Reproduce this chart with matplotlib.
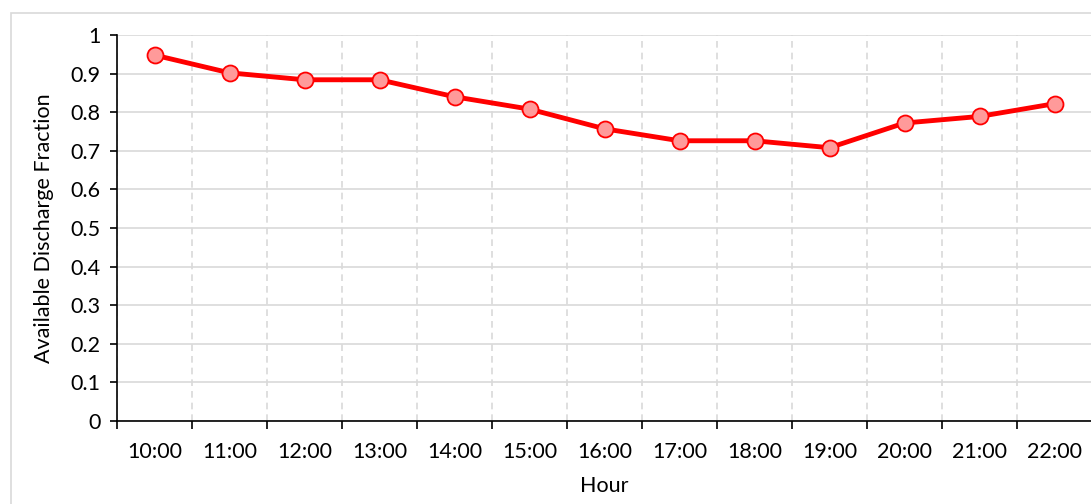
import matplotlib
matplotlib.use("Agg")
import matplotlib.pyplot as plt
from matplotlib.patches import Rectangle
from matplotlib.ticker import FixedLocator, NullFormatter

hours = ["10:00", "11:00", "12:00", "13:00", "14:00", "15:00", "16:00",
         "17:00", "18:00", "19:00", "20:00", "21:00", "22:00"]
fraction = [0.948, 0.902, 0.884, 0.884, 0.840, 0.808, 0.757,
            0.726, 0.726, 0.708, 0.772, 0.789, 0.822]

plt.rcParams['font.family'] = ['Lato', 'DejaVu Sans']

W, H = 1091, 504
fig = plt.figure(figsize=(W / 100, H / 100), dpi=100)

# light border round the chart area
fig.patches.append(Rectangle((11 / W, -0.1), 1.2, 1.1 - 13 / H, transform=fig.transFigure,
                             fill=False, edgecolor="#d9d9d9", linewidth=1.2))

ax = fig.add_axes([117 / W, 1 - 421 / H, (1092 - 117) / W, (421 - 35) / H])

x = list(range(len(hours)))
ax.plot(x, fraction, color="#ff0000", linewidth=3.5, marker="o", markersize=11.5,
        markerfacecolor="#ff9a9a", markeredgecolor="#ff0000", markeredgewidth=1.3,
        zorder=3)

ax.set_xlim(-0.5, len(hours) - 0.5)
ax.set_ylim(0, 1)

# category boundaries carry the ticks and dashed grid
bounds = [i - 0.5 for i in range(len(hours) + 1)]
ax.xaxis.set_major_locator(FixedLocator(bounds))
ax.xaxis.set_major_formatter(NullFormatter())
ax.xaxis.set_minor_locator(FixedLocator(x))
ax.set_xticklabels(hours, minor=True)
ax.tick_params(axis="x", which="minor", length=0, labelsize=15.5, pad=15)
ax.tick_params(axis="x", which="major", length=6, width=1.2, direction="out")

yt = [i / 10 for i in range(11)]
ax.set_yticks(yt)
ax.set_yticklabels(["0", "0.1", "0.2", "0.3", "0.4", "0.5", "0.6", "0.7", "0.8", "0.9", "1"])
ax.tick_params(axis="y", length=5, width=1.2, labelsize=15.5, pad=7)

ax.grid(axis="y", color="#d9d9d9", linewidth=1.2)
ax.grid(axis="x", which="major", color="#d9d9d9", linewidth=1.2, linestyle=(0, (4, 3)))
ax.set_axisbelow(True)

for s in ["top", "right"]:
    ax.spines[s].set_visible(False)
for s in ["left", "bottom"]:
    ax.spines[s].set_linewidth(1.2)
    ax.spines[s].set_color("black")

ax.set_xlabel("Hour", fontsize=15.5, labelpad=10)
ax.set_ylabel("Available Discharge Fraction", fontsize=15.5, labelpad=12)

fig.savefig("out.png", dpi=100)
